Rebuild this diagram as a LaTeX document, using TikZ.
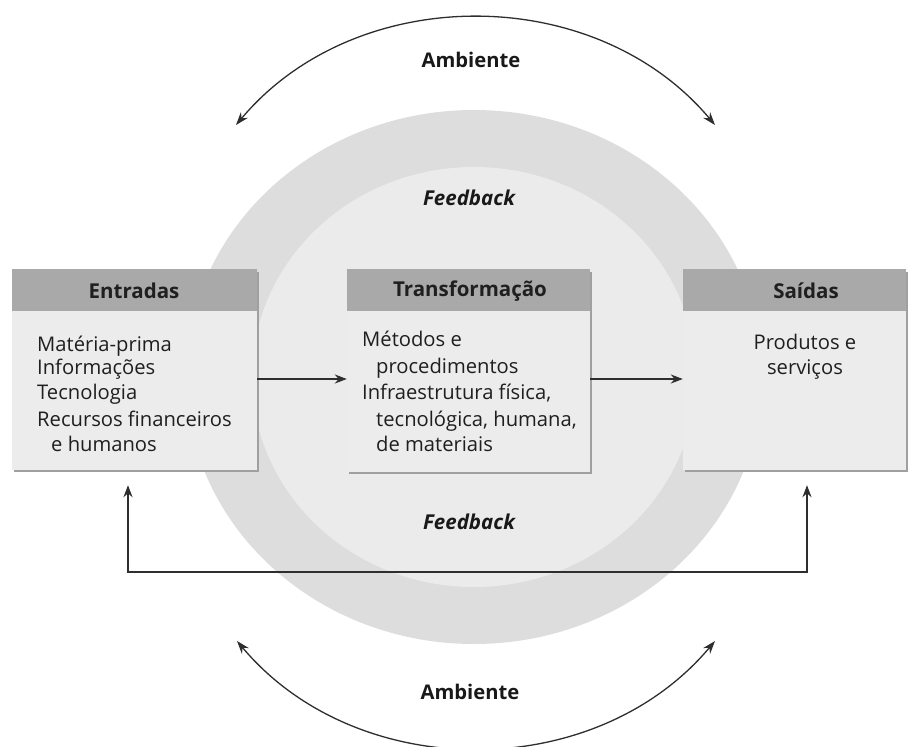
\documentclass[tikz,border=0pt]{standalone}
\usepackage{fontspec}
\setmainfont{Open Sans}
\usetikzlibrary{arrows.meta}
\definecolor{ringout}{HTML}{DDDDDD}
\definecolor{ringin}{HTML}{EBEBEB}
\definecolor{boxbody}{HTML}{ECECEC}
\definecolor{boxhead}{HTML}{A9A9A9}
\definecolor{boxshadow}{HTML}{A0A0A0}
\definecolor{linecol}{HTML}{2E2E2E}
\tikzset{
  bodytxt/.style={font=\fontsize{20.2}{24}\selectfont, inner sep=0pt, anchor=base west, text=black!88},
  headtxt/.style={font=\bfseries\fontsize{20.5}{24}\selectfont, inner sep=0pt, text=black!88},
  labeltxt/.style={font=\bfseries\fontsize{20.2}{24}\selectfont, inner sep=0pt, text=black!90},
  fbtxt/.style={font=\bfseries\itshape\fontsize{20.5}{24}\selectfont, inner sep=0pt, text=black!90},
  boxbody/.style={fill=boxbody, draw=none},
  boxhead/.style={fill=boxhead, draw=none},
  flow/.style={draw=linecol, line width=1.6pt, -{Stealth[length=12pt,width=9pt]}},
  envarc/.style={draw=linecol, line width=1.3pt, {Stealth[length=13pt,width=9pt]}-{Stealth[length=13pt,width=9pt]}},
}
\begin{document}
\begin{tikzpicture}[x=1pt,y=-1pt]
\useasboundingbox (0,0) rectangle (911,747);
% circles
\fill[ringout] (474,377) ellipse [x radius=288, y radius=267];
\fill[ringin] (474,377) ellipse [x radius=222, y radius=210];
% shadows
\fill[boxshadow] (14,272) rectangle (259,472);
\fill[boxshadow] (349,272) rectangle (592,474);
\fill[boxshadow] (685,272) rectangle (908,472);
% boxes
\path[boxbody] (12,269) rectangle (257,470);
\path[boxhead] (12,269) rectangle (257,311);
\path[boxbody] (347,269) rectangle (590,472);
\path[boxhead] (347,269) rectangle (590,311);
\path[boxbody] (683,269) rectangle (906,470);
\path[boxhead] (683,269) rectangle (906,311);
% named box nodes for connectors
\node[inner sep=0pt, minimum width=245pt, minimum height=201pt] (ent) at (134.5,369.5) {};
\node[inner sep=0pt, minimum width=243pt, minimum height=203pt] (tra) at (468.5,370.5) {};
\node[inner sep=0pt, minimum width=223pt, minimum height=201pt] (sai) at (794.5,369.5) {};
% headers
\node[headtxt] (hent) at (134,291) {Entradas};
\node[headtxt] (htra) at (470,291) {Transformação};
\node[headtxt] (hsai) at (806,291) {Saídas};
% Entradas body
\node[bodytxt] (e1) at (37,351) {Matéria-prima};
\node[bodytxt] (e2) at (37,374) {Informações};
\node[bodytxt] (e3) at (37,399) {Tecnologia};
\node[bodytxt] (e4) at (37,426) {Recursos financeiros};
\node[bodytxt] (e5) at (51,451) {e humanos};
% Transformacao body
\node[bodytxt] (t1) at (362,346) {Métodos e};
\node[bodytxt] (t2) at (376,373) {procedimentos};
\node[bodytxt] (t3) at (362,399) {Infraestrutura física,};
\node[bodytxt] (t4) at (376,426) {tecnológica, humana,};
\node[bodytxt] (t5) at (376,451) {de materiais};
% Saidas body
\node[bodytxt, anchor=base] (s1) at (805,349) {Produtos e};
\node[bodytxt, anchor=base] (s2) at (805,374) {serviços};
% labels
\node[labeltxt] (amb1) at (471,60) {Ambiente};
\node[labeltxt] (amb2) at (470,692) {Ambiente};
\node[fbtxt] (fb1) at (469,198) {Feedback};
\node[fbtxt] (fb2) at (469,522) {Feedback};
% flow arrows
\draw[flow] (ent.east |- 0,379) -- (tra.west |- 0,379);
\draw[flow] (tra.east |- 0,379) -- (sai.west |- 0,379);
% feedback loop
\coordinate (fbL) at (128,572);
\coordinate (fbR) at (807,572);
\draw[draw=linecol, line width=1.6pt, {Stealth[length=12pt,width=9pt]}-{Stealth[length=12pt,width=9pt]}]
  ([yshift=-15pt]ent.south -| fbL) -- (fbL) -- (fbR) -- ([yshift=-15pt]sai.south -| fbR);
% environment arcs
\coordinate (aTL) at (236,125);
\coordinate (aTR) at (715,125);
\coordinate (aBL) at (237,641);
\coordinate (aBR) at (715,641);
\draw[envarc] (aTL) to[bend left=50] (aTR);
\draw[envarc] (aBL) to[bend right=50] (aBR);
\end{tikzpicture}
\end{document}
